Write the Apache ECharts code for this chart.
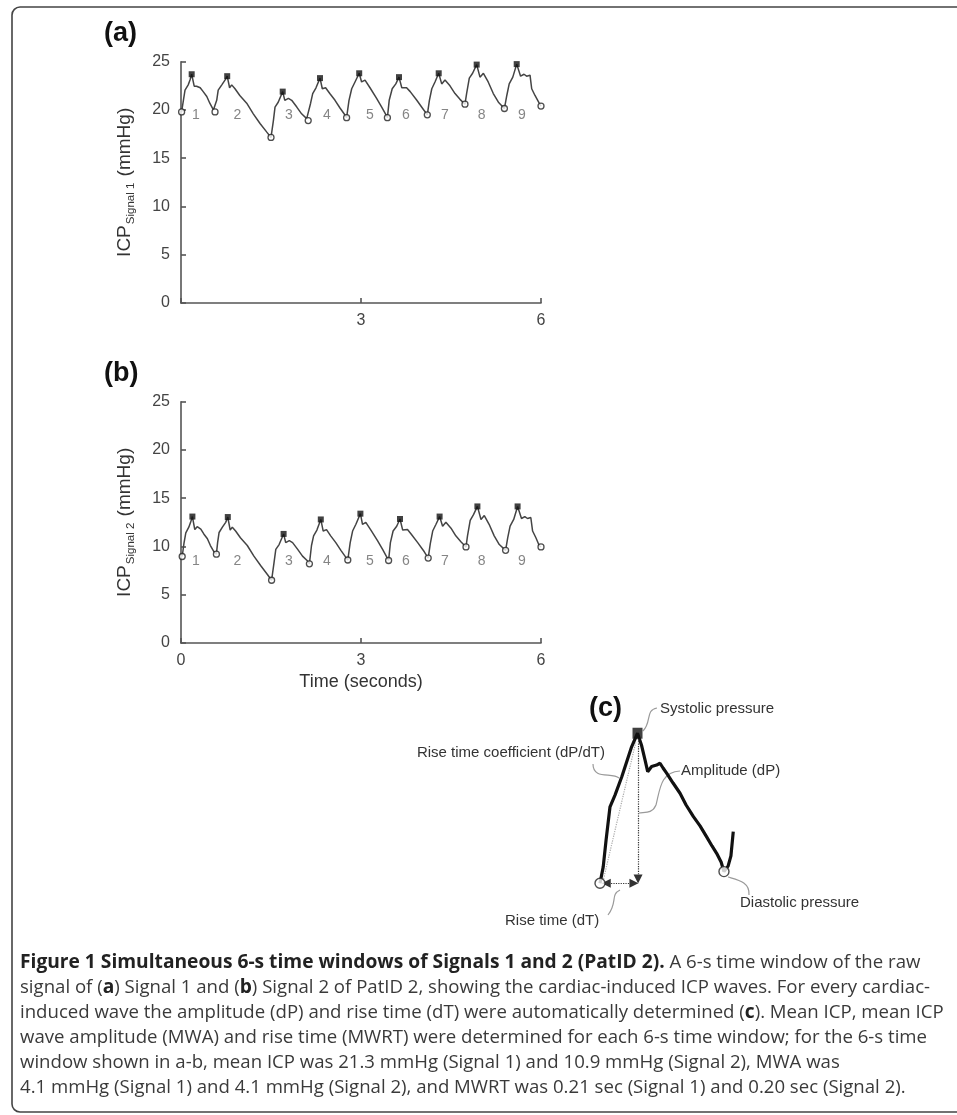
<!DOCTYPE html>
<html><head><meta charset="utf-8">
<script src="https://cdn.jsdelivr.net/npm/echarts@6/dist/echarts.min.js"></script>
<style>html,body{margin:0;padding:0;background:#fff}#c{width:957px;height:1115px}</style>
</head><body><div id="c"></div>
<script>
// ---------- data ----------
const signal1Time = [0.01,0.04,0.067,0.12,0.15,0.178,0.22,0.26,0.32,0.37,0.43,0.48,0.54,0.567,
  0.595,0.62,0.68,0.733,0.77,0.81,0.845,0.9,0.98,1.095,1.205,1.317,1.43,1.5,
  1.54,1.567,1.62,1.695,1.73,1.79,1.845,1.93,2.01,2.095,2.12,
  2.16,2.195,2.25,2.317,2.355,2.41,2.48,2.567,2.65,2.73,2.76,
  2.8,2.845,2.9,2.97,3.01,3.067,3.15,3.26,3.345,3.417,3.44,
  3.47,3.52,3.58,3.633,3.68,3.76,3.82,3.93,4.04,4.105,
  4.14,4.18,4.233,4.295,4.345,4.4,4.483,4.567,4.65,4.733,
  4.76,4.805,4.86,4.928,4.983,5.04,5.12,5.205,5.29,5.39,
  5.43,5.47,5.53,5.595,5.66,5.717,5.76,5.817,5.845,5.9,5.97,6.0];
const signal1Value = [19.8,21.0,22.05,22.6,23.1,23.7,22.46,22.46,22.3,21.9,21.4,20.7,20.0,19.8,
  21.0,22.05,22.6,23.1,23.5,22.3,22.6,22.2,21.5,20.7,19.6,18.6,17.7,17.15,
  18.9,20.3,20.8,21.9,21.0,21.2,21.0,20.3,19.6,19.1,18.9,
  20.7,21.7,22.3,23.3,22.2,22.3,21.7,21.0,20.2,19.5,19.2,
  21.0,22.2,22.9,23.8,22.9,23.1,22.3,21.2,20.3,19.5,19.2,
  21.0,22.2,22.7,23.4,22.3,22.3,21.9,21.0,20.05,19.5,
  21.0,22.2,22.9,23.8,22.7,23.1,22.5,21.7,21.1,20.6,
  21.7,23.3,23.8,24.7,23.4,23.8,22.9,21.7,20.8,20.15,
  21.5,22.7,23.4,24.75,23.5,23.7,23.5,23.6,22.2,21.5,20.7,20.4];
const signal2Time = [0.02,0.05,0.08,0.13,0.16,0.19,0.23,0.27,0.33,0.38,0.44,0.49,0.55,0.59,
  0.61,0.635,0.69,0.745,0.78,0.82,0.855,0.91,0.99,1.105,1.215,1.33,1.44,1.51,
  1.55,1.58,1.635,1.71,1.745,1.805,1.86,1.945,2.025,2.11,2.14,
  2.175,2.21,2.265,2.33,2.37,2.425,2.495,2.58,2.665,2.745,2.78,
  2.82,2.86,2.915,2.99,3.025,3.08,3.165,3.275,3.36,3.43,3.46,
  3.49,3.535,3.595,3.65,3.695,3.775,3.835,3.945,4.055,4.12,
  4.155,4.195,4.25,4.31,4.36,4.415,4.5,4.58,4.665,4.75,
  4.775,4.82,4.875,4.94,5.0,5.055,5.135,5.22,5.305,5.41,
  5.445,5.485,5.545,5.61,5.675,5.73,5.775,5.83,5.86,5.915,5.97,6.0];
const signal2Value = [8.96,10.35,11.4,12.0,12.5,13.1,11.75,12.05,11.8,11.3,10.8,10.1,9.45,9.2,
  10.4,11.45,12.0,12.5,13.05,11.7,12.0,11.6,10.9,10.1,9.0,8.0,7.1,6.5,
  8.3,9.7,10.2,11.3,10.4,10.6,10.4,9.7,9.0,8.5,8.2,
  10.1,11.1,11.7,12.8,11.6,11.75,11.1,10.4,9.6,8.9,8.6,
  10.4,11.6,12.3,13.4,12.3,12.5,11.7,10.6,9.7,8.9,8.55,
  10.4,11.6,12.1,12.85,11.7,11.75,11.3,10.4,9.45,8.8,
  10.3,11.6,12.3,13.1,12.1,12.5,11.9,11.1,10.5,9.95,
  11.1,12.7,13.3,14.15,12.8,13.2,12.3,11.1,10.2,9.6,
  10.9,12.1,12.8,14.15,12.9,13.1,12.9,13.0,11.6,10.9,10.1,9.95];

const systolic1Time  = [0.178,0.77,1.695,2.317,2.97,3.633,4.295,4.928,5.595];
const systolic1Value = [23.7,23.5,21.9,23.3,23.8,23.4,23.8,24.7,24.75];
const diastolic1Time  = [0.01,0.567,1.5,2.12,2.76,3.44,4.105,4.733,5.39,6.0];
const diastolic1Value = [19.8,19.8,17.15,18.9,19.2,19.2,19.5,20.6,20.15,20.4];
const systolic2Time  = [0.19,0.78,1.71,2.33,2.99,3.65,4.31,4.94,5.61];
const systolic2Value = [13.1,13.05,11.3,12.8,13.4,12.85,13.1,14.15,14.15];
const diastolic2Time  = [0.02,0.59,1.51,2.14,2.78,3.46,4.12,4.75,5.41,6.0];
const diastolic2Value = [8.96,9.2,6.5,8.2,8.6,8.55,8.8,9.95,9.6,9.95];

const beatNames = ['1','2','3','4','5','6','7','8','9'];
const beatLabelTime = [0.25,0.94,1.8,2.43,3.15,3.75,4.4,5.01,5.68];
const beatLabel1Value = 19.45;
const beatLabel2Value = 8.45;

// panel (c): one schematic wave (time in s, pressure above diastolic in mmHg)
const waveCTime  = [0,0.018,0.034,0.056,0.084,0.122,0.177,0.21,0.232,0.252,0.267,0.289,0.317,0.336,0.353,0.373,0.409,0.448,0.482,0.523,0.56,0.597,0.627,0.653,0.678,0.694,0.717,0.733,0.746];
const waveCValue = [0,0.45,1.18,2.09,2.41,2.91,3.73,4.1,3.78,3.37,3.05,3.19,3.23,3.28,3.15,3.01,2.74,2.46,2.14,1.82,1.57,1.27,1.02,0.82,0.58,0.32,0.47,0.75,1.41];
const waveCSystolic = [0.21, 4.1];
const waveCDiastolic = [[0, 0], [0.694, 0.32]];

const captionLines = [
  '{b|Figure 1 Simultaneous 6-s time windows of Signals 1 and 2 (PatID 2).} A 6-s time window of the raw',
  'signal of ({b|a}) Signal 1 and ({b|b}) Signal 2 of PatID 2, showing the cardiac-induced ICP waves. For every cardiac-',
  'induced wave the amplitude (dP) and rise time (dT) were automatically determined ({b|c}). Mean ICP, mean ICP',
  'wave amplitude (MWA) and rise time (MWRT) were determined for each 6-s time window; for the 6-s time',
  'window shown in a-b, mean ICP was 21.3 mmHg (Signal 1) and 10.9 mmHg (Signal 2), MWA was',
  '4.1 mmHg (Signal 1) and 4.1 mmHg (Signal 2), and MWRT was 0.21 sec (Signal 1) and 0.20 sec (Signal 2).'
];

// ---------- build ----------
const zip = (a, b) => a.map((v, i) => [v, b[i]]);
const FONT = 'Liberation Sans, Arial, sans-serif';
const CAPFONT = '"Open Sans", sans-serif';
const AX = '#555';
const chart = echarts.init(document.getElementById('c'), null, {renderer: 'canvas'});

function xAxisCfg(grid, showZero, name) {
  return {
    gridIndex: grid, type: 'value', min: 0, max: 6, interval: 3,
    axisLine: {lineStyle: {color: AX, width: 1.6}},
    axisTick: {inside: true, length: 5, lineStyle: {color: AX, width: 1.6}},
    axisLabel: {color: '#444', fontSize: 16, fontFamily: FONT, margin: 10,
      formatter: v => (v === 0 && !showZero) ? '' : String(v)},
    splitLine: {show: false},
    name: name || '', nameLocation: 'middle', nameGap: 30,
    nameTextStyle: {color: '#333', fontSize: 18, fontFamily: FONT}
  };
}
function yAxisCfg(grid, sig) {
  return {
    gridIndex: grid, type: 'value', min: 0, max: 25, interval: 5,
    axisLine: {lineStyle: {color: AX, width: 1.6}},
    axisTick: {inside: true, length: 5, lineStyle: {color: AX, width: 1.6}},
    axisLabel: {color: '#444', fontSize: 16, fontFamily: FONT, margin: 11},
    splitLine: {show: false},
    name: '{m|ICP}{s|' + sig + '}{m| (mmHg)}', nameLocation: 'middle', nameGap: 44, nameRotate: 90,
    nameTextStyle: {rich: {
      m: {fontSize: 19, fontFamily: FONT, color: '#333', lineHeight: 24, verticalAlign: 'middle'},
      s: {fontSize: 11.5, fontFamily: FONT, color: '#333', lineHeight: 12, verticalAlign: 'bottom', padding: [0,1,0,1]}
    }}
  };
}
function waveSeries(idx, t, v) {
  return {type: 'line', xAxisIndex: idx, yAxisIndex: idx, data: zip(t, v), symbol: 'none',
    lineStyle: {color: '#444', width: 1.5}, silent: true, animation: false, z: 3};
}
function sysSeries(idx, t, v) {
  return {type: 'scatter', xAxisIndex: idx, yAxisIndex: idx, data: zip(t, v), symbol: 'rect', symbolSize: 6,
    itemStyle: {color: '#111'}, silent: true, animation: false, z: 5, clip: false};
}
function diaSeries(idx, t, v) {
  return {type: 'scatter', xAxisIndex: idx, yAxisIndex: idx, data: zip(t, v), symbol: 'circle', symbolSize: 6,
    itemStyle: {color: '#fff', borderColor: '#222', borderWidth: 1.3}, silent: true, animation: false, z: 5, clip: false};
}
function beatSeries(idx, yv) {
  return {type: 'scatter', xAxisIndex: idx, yAxisIndex: idx,
    data: beatLabelTime.map((t, i) => ({name: beatNames[i], value: [t, yv]})),
    symbolSize: 0, silent: true, animation: false,
    label: {show: true, position: 'inside', formatter: p => p.name, color: '#666', fontSize: 14, fontFamily: FONT}};
}
function markSeries(points, symbols, color, type, size) {
  return {type: 'line', xAxisIndex: 2, yAxisIndex: 2, data: [], silent: true, animation: false,
    markLine: {silent: true, animation: false, symbol: symbols, symbolSize: size || 8,
      label: {show: false}, lineStyle: {color: color, type: type, width: 1.2},
      data: [[{coord: points[0]}, {coord: points[1]}]]}};
}

const txt = (x, y, text, opt) => Object.assign({type: 'text', silent: true, style: Object.assign({
  x: x, y: y, text: text, fill: '#333', font: '15px ' + FONT, verticalAlign: 'middle', align: 'left'}, opt || {})});
const curve = (p) => ({type: 'bezierCurve', silent: true,
  shape: {x1: p[0], y1: p[1], cpx1: p[2], cpy1: p[3], cpx2: p[4], cpy2: p[5], x2: p[6], y2: p[7]},
  style: {stroke: '#9a9a9a', lineWidth: 1.2, fill: null}});

const graphics = [
  {type: 'rect', silent: true, z: -1, shape: {x: 12, y: 7, width: 960, height: 1105, r: 8},
    style: {fill: null, stroke: '#444', lineWidth: 1.6}},
  txt(104, 34, '(a)', {fill: '#111', font: 'bold 27px ' + FONT}),
  txt(104, 374, '(b)', {fill: '#111', font: 'bold 27px ' + FONT}),
  txt(589, 709, '(c)', {fill: '#111', font: 'bold 27px ' + FONT}),
  txt(660, 709, 'Systolic pressure'),
  txt(605, 753, 'Rise time coefficient (dP/dT)', {align: 'right'}),
  txt(681, 771, 'Amplitude (dP)'),
  txt(740, 903, 'Diastolic pressure'),
  txt(505, 921, 'Rise time (dT)'),
  curve([643, 731, 652, 722, 645, 710, 657, 708]),
  curve([593, 764, 593, 780, 612, 772, 619, 778]),
  curve([680, 771, 660, 772, 660, 790, 656, 805]),
  curve([656, 805, 652, 814, 645, 812, 639, 813]),
  curve([728, 877, 738, 880, 750, 882, 749, 895]),
  curve([620, 890, 610, 895, 618, 902, 608, 915])
];
captionLines.forEach((line, i) => {
  graphics.push({type: 'text', silent: true, style: {
    x: 20, y: 963 + i * 25, text: line, verticalAlign: 'middle', align: 'left',
    fill: '#3a3a3a', font: '18.6px ' + CAPFONT,
    rich: {b: {fontWeight: 'bold', fill: '#222', fontSize: 19.2, fontFamily: CAPFONT}}
  }});
});

chart.setOption({
  backgroundColor: '#fff',
  animation: false,
  grid: [
    {left: 181, top: 61.7, width: 360, height: 241.3},
    {left: 181, top: 401.7, width: 360, height: 241.3},
    {left: 600, top: 718.6, width: 142.9, height: 164.7}
  ],
  xAxis: [xAxisCfg(0, false), xAxisCfg(1, true, 'Time (seconds)'),
    {gridIndex: 2, type: 'value', min: 0, max: 0.8, show: false}],
  yAxis: [yAxisCfg(0, 'Signal 1'), yAxisCfg(1, 'Signal 2'),
    {gridIndex: 2, type: 'value', min: 0, max: 4.5, show: false}],
  series: [
    waveSeries(0, signal1Time, signal1Value),
    sysSeries(0, systolic1Time, systolic1Value),
    diaSeries(0, diastolic1Time, diastolic1Value),
    beatSeries(0, beatLabel1Value),
    waveSeries(1, signal2Time, signal2Value),
    sysSeries(1, systolic2Time, systolic2Value),
    diaSeries(1, diastolic2Time, diastolic2Value),
    beatSeries(1, beatLabel2Value),
    markSeries([[0.02, 0.12], [0.2, 3.85]], ['none', 'none'], '#aaa', 'dotted', 6),
    markSeries([[0.213, 3.95], [0.213, 0.12]], ['none', 'triangle'], '#333', 'dotted', 9),
    markSeries([[0.035, 0], [0.19, 0]], ['triangle', 'triangle'], '#333', 'dotted', 9),
    {type: 'line', xAxisIndex: 2, yAxisIndex: 2, data: zip(waveCTime, waveCValue), symbol: 'none',
      lineStyle: {color: '#111', width: 3.2}, silent: true, animation: false, z: 4, clip: false},
    {type: 'scatter', xAxisIndex: 2, yAxisIndex: 2, data: [waveCSystolic], symbol: 'rect', symbolSize: [10, 11],
      itemStyle: {color: '#111'}, silent: true, animation: false, z: 6, clip: false},
    {type: 'scatter', xAxisIndex: 2, yAxisIndex: 2, data: waveCDiastolic, symbol: 'circle', symbolSize: 10,
      itemStyle: {color: '#fff', borderColor: '#222', borderWidth: 1.4}, silent: true, animation: false, z: 6, clip: false}
  ],
  graphic: graphics
});
</script></body></html>
